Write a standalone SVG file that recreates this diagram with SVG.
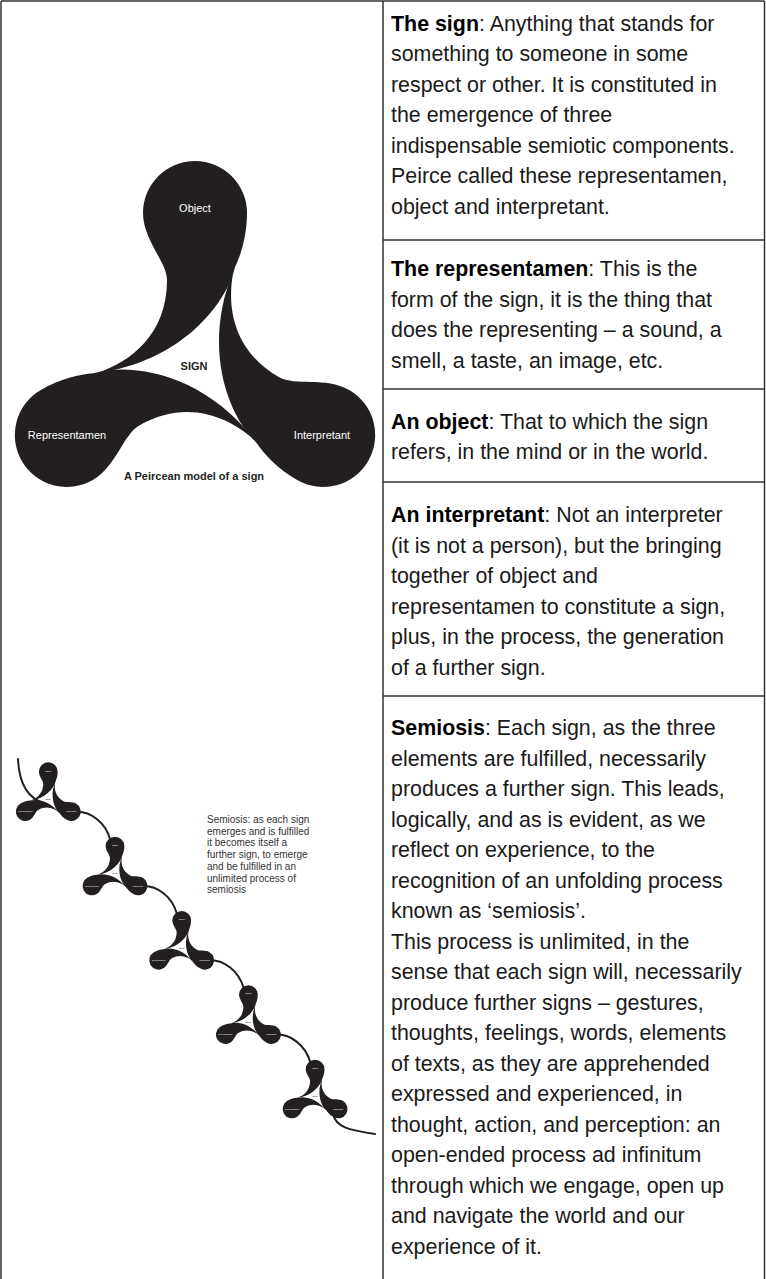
<svg xmlns="http://www.w3.org/2000/svg" xmlns:xlink="http://www.w3.org/1999/xlink" width="766" height="1279" viewBox="0 0 766 1279">
<style>
.rule{stroke:#333;stroke-width:1.5;fill:none}
.body{font-family:"Liberation Sans",Arial,sans-serif;font-size:21.4px;fill:#1a1a1a}
.b{font-weight:bold;fill:#000}
.blob{fill:#231f20}
.lbl{font-family:"Liberation Sans",Arial,sans-serif;font-size:11px;fill:#fff;text-anchor:middle}
.dark{font-family:"Liberation Sans",Arial,sans-serif;font-size:11px;font-weight:bold;fill:#231f20;text-anchor:middle}
.cap{font-family:"Liberation Sans",Arial,sans-serif;font-size:10px;fill:#333}
.chain{stroke:#231f20;stroke-width:2;fill:none;stroke-linecap:round}
</style>
<defs>
<path id="drop" d="M 97 373 C 130 362 167 335 167 280 C 167 262 143 240 143 213 A 52 52 0 0 1 247 213 C 247 235 241 255 235 267 C 226 305 180 362 97 373 Z"/>
</defs>
<rect width="766" height="1279" fill="#fff"/>
<g id="table">
<line class="rule" x1="1" y1="1" x2="764.5" y2="1"/>
<line class="rule" x1="1" y1="1" x2="1" y2="1279"/>
<line class="rule" x1="383" y1="1" x2="383" y2="1279"/>
<line class="rule" x1="764.5" y1="1" x2="764.5" y2="1279"/>
<line class="rule" x1="383" y1="240" x2="764.5" y2="240"/>
<line class="rule" x1="383" y1="389" x2="764.5" y2="389"/>
<line class="rule" x1="383" y1="482" x2="764.5" y2="482"/>
<line class="rule" x1="383" y1="696" x2="764.5" y2="696"/>
</g>
<g id="text-sign" class="body">
<text x="391" y="30.5"><tspan class="b">The sign</tspan>: Anything that stands for</text>
<text x="391" y="61">something to someone in some</text>
<text x="391" y="91.5">respect or other. It is constituted in</text>
<text x="391" y="122">the emergence of three</text>
<text x="391" y="152.5">indispensable semiotic components.</text>
<text x="391" y="183">Peirce called these representamen,</text>
<text x="391" y="213.5">object and interpretant.</text>
</g>
<g id="text-representamen" class="body">
<text x="391" y="276"><tspan class="b">The representamen</tspan>: This is the</text>
<text x="391" y="306.5">form of the sign, it is the thing that</text>
<text x="391" y="337">does the representing – a sound, a</text>
<text x="391" y="367.5">smell, a taste, an image, etc.</text>
</g>
<g id="text-object" class="body">
<text x="391" y="428.5"><tspan class="b">An object</tspan>: That to which the sign</text>
<text x="391" y="459">refers, in the mind or in the world.</text>
</g>
<g id="text-interpretant" class="body">
<text x="391" y="522"><tspan class="b">An interpretant</tspan>: Not an interpreter</text>
<text x="391" y="552.5">(it is not a person), but the bringing</text>
<text x="391" y="583">together of object and</text>
<text x="391" y="613.5">representamen to constitute a sign,</text>
<text x="391" y="644">plus, in the process, the generation</text>
<text x="391" y="674.5">of a further sign.</text>
</g>
<g id="text-semiosis" class="body">
<text x="391" y="735"><tspan class="b">Semiosis</tspan>: Each sign, as the three</text>
<text x="391" y="765.5">elements are fulfilled, necessarily</text>
<text x="391" y="796">produces a further sign. This leads,</text>
<text x="391" y="826.5">logically, and as is evident, as we</text>
<text x="391" y="857">reflect on experience, to the</text>
<text x="391" y="887.5">recognition of an unfolding process</text>
<text x="391" y="918">known as ‘semiosis’.</text>
<text x="391" y="948.5">This process is unlimited, in the</text>
<text x="391" y="979">sense that each sign will, necessarily</text>
<text x="391" y="1009.5">produce further signs – gestures,</text>
<text x="391" y="1040">thoughts, feelings, words, elements</text>
<text x="391" y="1070.5">of texts, as they are apprehended</text>
<text x="391" y="1101">expressed and experienced, in</text>
<text x="391" y="1131.5">thought, action, and perception: an</text>
<text x="391" y="1162">open-ended process ad infinitum</text>
<text x="391" y="1192.5">through which we engage, open up</text>
<text x="391" y="1223">and navigate the world and our</text>
<text x="391" y="1253.5">experience of it.</text>
</g>
<g id="sign">
<g id="object"><use href="#drop" xlink:href="#drop" class="blob"/><text class="lbl" x="195" y="212">Object</text></g>
<g id="interpretant"><use href="#drop" xlink:href="#drop" class="blob" transform="rotate(120 195 361)"/><text class="lbl" x="322" y="439">Interpretant</text></g>
<g id="representamen"><use href="#drop" xlink:href="#drop" class="blob" transform="rotate(240 195 361)"/><text class="lbl" x="67" y="439">Representamen</text></g>
<text class="dark" x="194" y="370">SIGN</text>
</g>
<text id="caption" class="dark" x="194" y="480">A Peircean model of a sign</text>
<g id="connectors">
<path class="chain" d="M 18 759 C 19 782 27 798 44 803"/>
<path class="chain" d="M 77.3 811.7 C 90.3 811.7 105.3 821.7 110.3 839.7"/>
<path class="chain" d="M 144 886 C 157 886 172 896 177 914"/>
<path class="chain" d="M 210.7 960.3 C 223.7 960.3 238.7 970.3 243.7 988.3"/>
<path class="chain" d="M 277.4 1034.6 C 290.4 1034.6 305.4 1044.6 310.4 1062.6"/>
<path class="chain" d="M 333 1114 C 336 1127 348 1130 375 1134"/>
</g>
<g id="semiosis-signs">
<use id="sign-1" href="#sign" xlink:href="#sign" transform="translate(48.3 771.7) scale(0.18) translate(-195 -213)"/>
<use id="sign-2" href="#sign" xlink:href="#sign" transform="translate(115 846) scale(0.18) translate(-195 -213)"/>
<use id="sign-3" href="#sign" xlink:href="#sign" transform="translate(181.7 920.3) scale(0.18) translate(-195 -213)"/>
<use id="sign-4" href="#sign" xlink:href="#sign" transform="translate(248.4 994.6) scale(0.18) translate(-195 -213)"/>
<use id="sign-5" href="#sign" xlink:href="#sign" transform="translate(315.1 1069) scale(0.18) translate(-195 -213)"/>
</g>
<g id="semiosis-caption" class="cap">
<text x="207" y="823">Semiosis: as each sign</text>
<text x="207" y="834.7">emerges and is fulfilled</text>
<text x="207" y="846.4">it becomes itself a</text>
<text x="207" y="858.1">further sign, to emerge</text>
<text x="207" y="869.8">and be fulfilled in an</text>
<text x="207" y="881.5">unlimited process of</text>
<text x="207" y="893.2">semiosis</text>
</g>
</svg>
